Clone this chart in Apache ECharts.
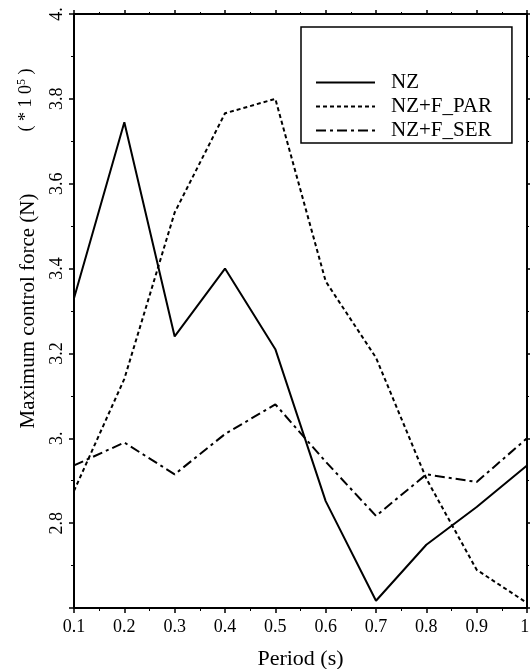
<!DOCTYPE html>
<html>
<head>
<meta charset="utf-8">
<script src="https://cdn.jsdelivr.net/npm/echarts@6/dist/echarts.min.js"></script>
<style>html,body{margin:0;padding:0;background:#fff}#c{width:530px;height:669px}</style>
</head>
<body>
<div id="c"></div>
<script>
var periods = [0.1, 0.2, 0.3, 0.4, 0.5, 0.6, 0.7, 0.8, 0.9, 1.0];
var nz      = [3.33, 3.745, 3.24, 3.40, 3.21, 2.852, 2.617, 2.749, 2.838, 2.936];
var nzPar   = [2.876, 3.14, 3.532, 3.766, 3.80, 3.37, 3.19, 2.905, 2.69, 2.612];
var nzSer   = [2.936, 2.99, 2.915, 3.01, 3.08, 2.945, 2.817, 2.915, 2.897, 3.0];
var seriesNames = ['NZ', 'NZ+F_PAR', 'NZ+F_SER'];
var xTitle = 'Period (s)';
var yTitle = 'Maximum control force (N)';

function pairs(v) { return periods.map(function (p, i) { return [p, v[i]]; }); }
var FONT = '"Liberation Serif", "Times New Roman", serif';

var chart = echarts.init(document.getElementById('c'), null, {renderer: 'canvas'});
var axisLine = {show: true, lineStyle: {color: '#000', width: 2}};
chart.setOption({
  animation: false,
  backgroundColor: '#fff',
  grid: {left: 74, right: 3, top: 14, bottom: 61, containLabel: false, outerBoundsMode: 'none'},
  legend: {
    orient: 'vertical', left: 301, top: 27,
    borderColor: '#000', borderWidth: 1.5,
    padding: [45, 20, 2, 14],
    itemWidth: 59, itemHeight: 14, itemGap: 3,
    data: seriesNames,
    itemStyle: {opacity: 0},
    textStyle: {fontFamily: FONT, fontSize: 21, color: '#000', lineHeight: 19, padding: [0, 0, 0, 11]}
  },
  xAxis: [{
    type: 'value', min: 0.1, max: 1.0, interval: 0.1,
    axisLine: axisLine,
    axisTick: {show: true, inside: false, length: 5, lineStyle: {color: '#000', width: 1.5}},
    minorTick: {show: true, splitNumber: 2, length: 3, lineStyle: {color: '#000', width: 1}},
    splitLine: {show: false},
    axisLabel: {
      margin: 10, color: '#000', fontFamily: FONT, fontSize: 18,
      formatter: function (v) { var r = Math.round(v * 10) / 10; return r === 1 ? '1.' : r.toFixed(1); }
    },
    name: xTitle, nameLocation: 'middle', nameGap: 40,
    nameTextStyle: {fontFamily: FONT, fontSize: 22, color: '#000'}
  }, {
    type: 'value', position: 'top', min: 0.1, max: 1.0, interval: 0.1,
    axisLine: axisLine,
    axisTick: {show: true, inside: false, length: 4, lineStyle: {color: '#000', width: 1.5}},
    minorTick: {show: true, splitNumber: 2, length: 2, lineStyle: {color: '#000', width: 1}},
    splitLine: {show: false}, axisLabel: {show: false}
  }],
  yAxis: [{
    type: 'value', min: 2.6, max: 4.0, interval: 0.2,
    axisLine: axisLine,
    axisTick: {show: true, inside: false, length: 5, lineStyle: {color: '#000', width: 1.5}},
    minorTick: {show: true, splitNumber: 2, length: 3, lineStyle: {color: '#000', width: 1}},
    splitLine: {show: false},
    axisLabel: {
      rotate: 90, margin: 8, color: '#000', fontFamily: FONT, fontSize: 18,
      formatter: function (v) {
        var r = Math.round(v * 10) / 10;
        if (r === 2.6) return '';
        if (r === 4 || r === 3) return r + '.';
        return r.toFixed(1);
      }
    },
    name: yTitle, nameLocation: 'middle', nameRotate: 90, nameGap: 35,
    nameTextStyle: {fontFamily: FONT, fontSize: 21, color: '#000'}
  }, {
    type: 'value', position: 'right', min: 2.6, max: 4.0, interval: 0.2,
    axisLine: axisLine,
    axisTick: {show: true, inside: false, length: 4, lineStyle: {color: '#000', width: 1.5}},
    minorTick: {show: true, splitNumber: 2, length: 2, lineStyle: {color: '#000', width: 1}},
    splitLine: {show: false}, axisLabel: {show: false}
  }],
  graphic: [{
    type: 'text', x: 26, y: 100, rotation: Math.PI / 2,
    style: {
      text: '( * 1 0{sup|5} )', textAlign: 'center', textVerticalAlign: 'middle',
      font: '18px ' + FONT, fill: '#000',
      rich: {sup: {fontSize: 12, fontFamily: FONT, verticalAlign: 'top', padding: [0, 0, 8, 0]}}
    }
  }],
  series: [{
    name: seriesNames[0], type: 'line', data: pairs(nz), symbol: 'none',
    xAxisIndex: 0, yAxisIndex: 0,
    lineStyle: {color: '#000', width: 2, type: 'solid'}, itemStyle: {color: '#000'}
  }, {
    name: seriesNames[1], type: 'line', data: pairs(nzPar), symbol: 'none',
    xAxisIndex: 0, yAxisIndex: 0,
    lineStyle: {color: '#000', width: 2, type: [4, 3]}, itemStyle: {color: '#000'}
  }, {
    name: seriesNames[2], type: 'line', data: pairs(nzSer), symbol: 'none',
    xAxisIndex: 0, yAxisIndex: 0,
    lineStyle: {color: '#000', width: 2, type: [10, 4, 3, 4]}, itemStyle: {color: '#000'}
  }]
});
</script>
</body>
</html>
